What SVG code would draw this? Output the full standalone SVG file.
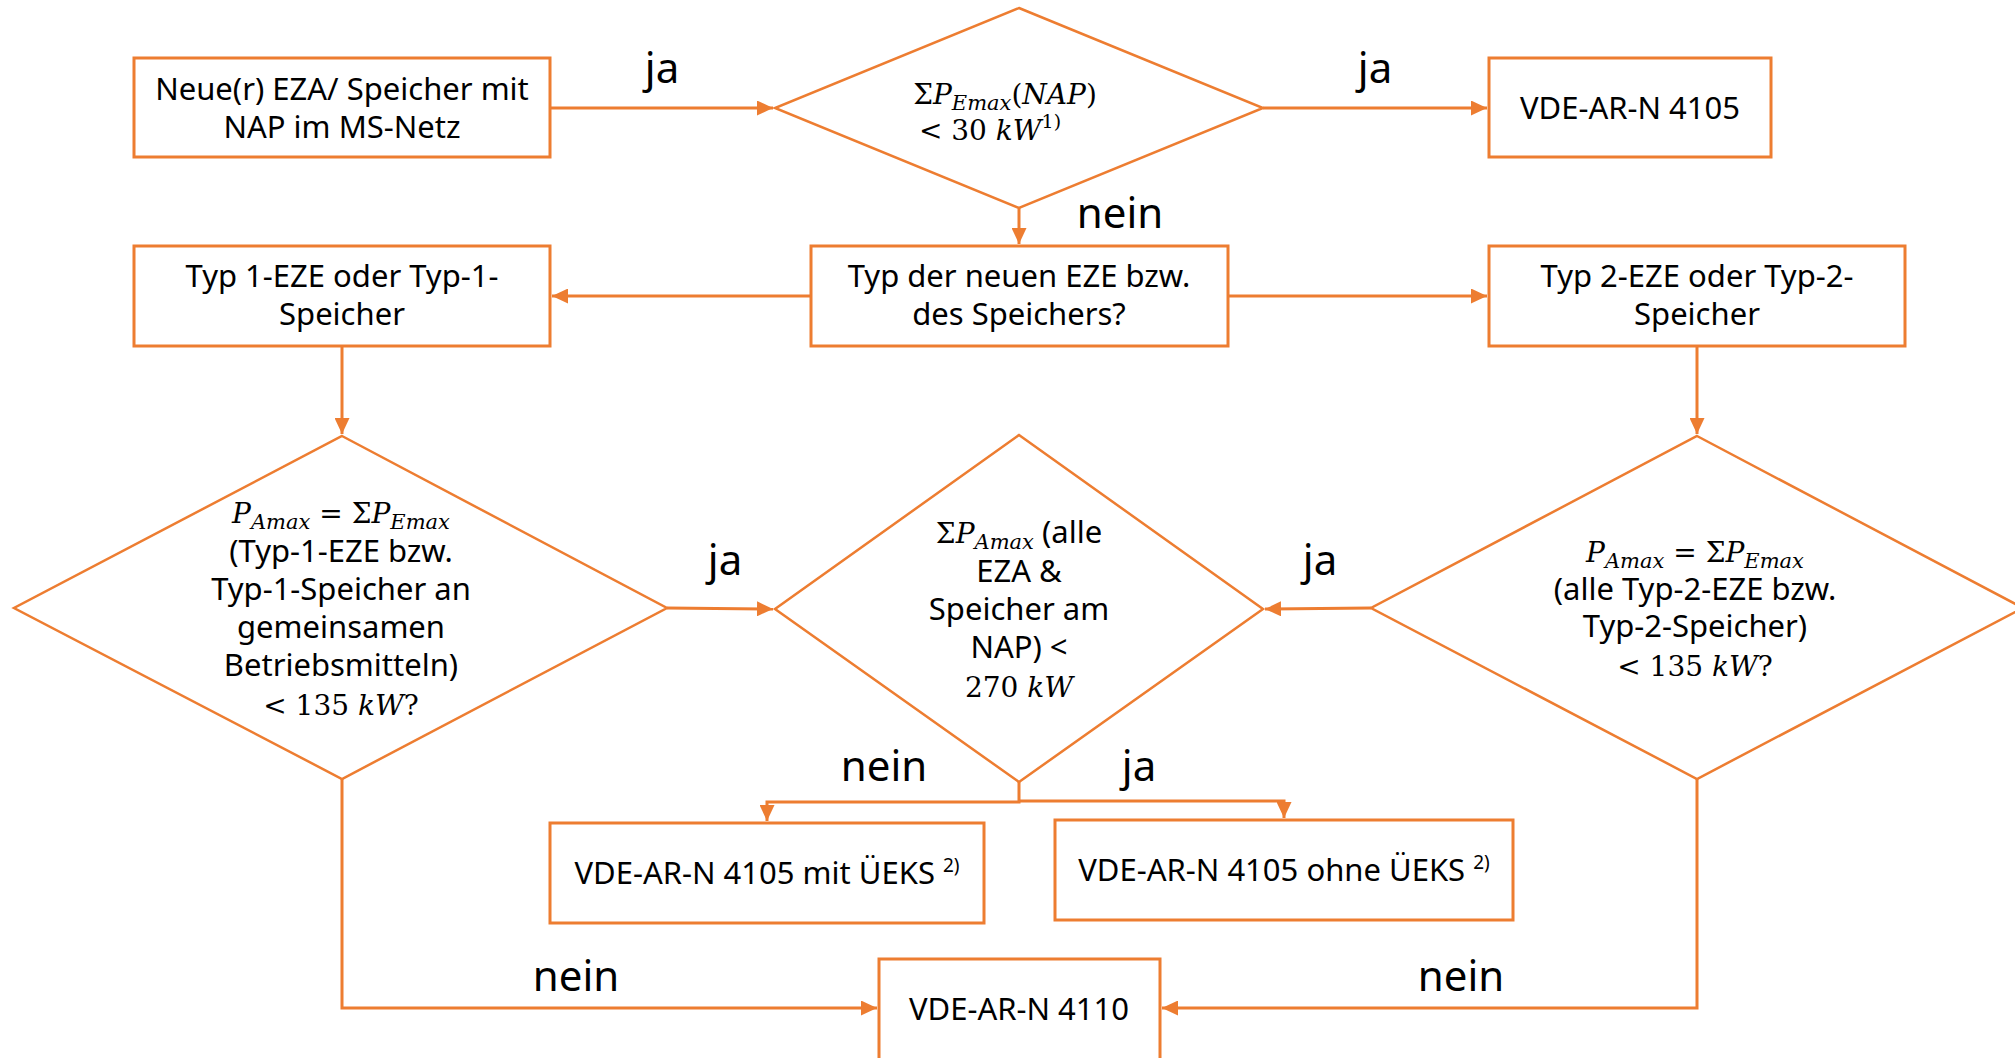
<svg xmlns="http://www.w3.org/2000/svg" width="2015" height="1058" viewBox="0 0 2015 1058">
<defs>
<style>
.box{fill:#fff;stroke:#ED7D31;stroke-width:3}
.dia{fill:#fff;stroke:#ED7D31;stroke-width:2.5}
.con{fill:none;stroke:#ED7D31;stroke-width:3}
.t{font-family:"Noto Sans","Open Sans",sans-serif;font-size:31px;fill:#000;text-anchor:middle}
.lbl{font-family:"Noto Sans","Open Sans",sans-serif;font-size:42px;fill:#000;text-anchor:middle}
.m{font-family:"DejaVu Serif","Liberation Serif",serif;font-size:28px;fill:#000;text-anchor:middle}
.i{font-style:italic}
.sb{font-size:21px;font-style:italic}
.sup{font-size:19px}
</style>
<marker id="ah" markerUnits="userSpaceOnUse" markerWidth="16" markerHeight="15" refX="16" refY="7.5" orient="auto">
<path d="M0,0 L16,7.5 L0,15 Z" fill="#ED7D31"/>
</marker>
</defs>
<rect width="2015" height="1058" fill="#fff"/>
<g id="connectors">
<path class="con" d="M550,108 H773" marker-end="url(#ah)"/>
<path class="con" d="M1263,108 H1487" marker-end="url(#ah)"/>
<path class="con" d="M1019,208 V244" marker-end="url(#ah)"/>
<path class="con" d="M811,296 H552" marker-end="url(#ah)"/>
<path class="con" d="M1228,296 H1487" marker-end="url(#ah)"/>
<path class="con" d="M342,346 V434" marker-end="url(#ah)"/>
<path class="con" d="M1697,346 V434" marker-end="url(#ah)"/>
<path class="con" d="M667,608 L773,609" marker-end="url(#ah)"/>
<path class="con" d="M1371,608 L1265,609" marker-end="url(#ah)"/>
<path class="con" d="M1019,782 V802 H767 V821" marker-end="url(#ah)"/>
<path class="con" d="M1019,801 H1284 V818" marker-end="url(#ah)"/>
<path class="con" d="M342,779 V1008 H877" marker-end="url(#ah)"/>
<path class="con" d="M1697,779 V1008 H1162" marker-end="url(#ah)"/>
<text class="lbl" x="662" y="83">ja</text>
<text class="lbl" x="1375" y="83">ja</text>
<text class="lbl" x="1120" y="228">nein</text>
<text class="lbl" x="725" y="575">ja</text>
<text class="lbl" x="1320" y="575">ja</text>
<text class="lbl" x="884" y="781">nein</text>
<text class="lbl" x="1139" y="781">ja</text>
<text class="lbl" x="576" y="991">nein</text>
<text class="lbl" x="1461" y="991">nein</text>
</g>
<g id="n-start">
<rect class="box" x="134" y="58" width="416" height="99"/>
<text class="t" x="342" y="100">Neue(r) EZA/ Speicher mit</text>
<text class="t" x="342" y="138">NAP im MS-Netz</text>
</g>
<g id="n-d30">
<polygon class="dia" points="1019,8 1263,108 1019,208 775,108"/>
<text class="m" x="1005" y="104">Σ<tspan class="i">P</tspan><tspan class="sb" dy="6">Emax</tspan><tspan dy="-6">(</tspan><tspan class="i">NAP</tspan>)</text>
<text class="m" x="990" y="140">&lt; 30 <tspan class="i">kW</tspan><tspan class="sup" dy="-12">1)</tspan></text>
</g>
<g id="n-4105">
<rect class="box" x="1489" y="58" width="282" height="99"/>
<text class="t" x="1630" y="119">VDE-AR-N 4105</text>
</g>
<g id="n-typ1">
<rect class="box" x="134" y="246" width="416" height="100"/>
<text class="t" x="342" y="287">Typ 1-EZE oder Typ-1-</text>
<text class="t" x="342" y="325">Speicher</text>
</g>
<g id="n-typ">
<rect class="box" x="811" y="246" width="417" height="100"/>
<text class="t" x="1019" y="287">Typ der neuen EZE bzw.</text>
<text class="t" x="1019" y="325">des Speichers?</text>
</g>
<g id="n-typ2">
<rect class="box" x="1489" y="246" width="416" height="100"/>
<text class="t" x="1697" y="287">Typ 2-EZE oder Typ-2-</text>
<text class="t" x="1697" y="325">Speicher</text>
</g>
<g id="n-d135a">
<polygon class="dia" points="342,436 667,608 342,779 14,608"/>
<text class="m" x="341" y="523"><tspan class="i">P</tspan><tspan class="sb" dy="6">Amax</tspan><tspan dy="-6"> = Σ</tspan><tspan class="i">P</tspan><tspan class="sb" dy="6">Emax</tspan></text>
<text class="t" x="341" y="562">(Typ-1-EZE bzw.</text>
<text class="t" x="341" y="600">Typ-1-Speicher an</text>
<text class="t" x="341" y="638">gemeinsamen</text>
<text class="t" x="341" y="676">Betriebsmitteln)</text>
<text class="m" x="341" y="715">&lt; 135 <tspan class="i">kW</tspan>?</text>
</g>
<g id="n-d270">
<polygon class="dia" points="1019,435 1263,609 1019,782 775,609"/>
<text class="t" x="1019" y="543"><tspan class="m">Σ</tspan><tspan class="m i">P</tspan><tspan class="m sb" dy="6">Amax</tspan><tspan dy="-6"> (alle</tspan></text>
<text class="t" x="1019" y="582">EZA &amp;</text>
<text class="t" x="1019" y="620">Speicher am</text>
<text class="t" x="1019" y="658">NAP) &lt;</text>
<text class="m" x="1019" y="697">270 <tspan class="i">kW</tspan></text>
</g>
<g id="n-d135b">
<polygon class="dia" points="1697,436 2023,608 1697,779 1371,608"/>
<text class="m" x="1695" y="562"><tspan class="i">P</tspan><tspan class="sb" dy="6">Amax</tspan><tspan dy="-6"> = Σ</tspan><tspan class="i">P</tspan><tspan class="sb" dy="6">Emax</tspan></text>
<text class="t" x="1695" y="600">(alle Typ-2-EZE bzw.</text>
<text class="t" x="1695" y="637">Typ-2-Speicher)</text>
<text class="m" x="1695" y="676">&lt; 135 <tspan class="i">kW</tspan>?</text>
</g>
<g id="n-mit">
<rect class="box" x="550" y="823" width="434" height="100"/>
<text class="t" x="767" y="884">VDE-AR-N 4105 mit ÜEKS <tspan class="sup" dy="-12">2)</tspan></text>
</g>
<g id="n-ohne">
<rect class="box" x="1055" y="820" width="458" height="100"/>
<text class="t" x="1284" y="881">VDE-AR-N 4105 ohne ÜEKS <tspan class="sup" dy="-12">2)</tspan></text>
</g>
<g id="n-4110">
<rect class="box" x="879" y="959" width="281" height="102"/>
<text class="t" x="1019" y="1020">VDE-AR-N 4110</text>
</g>
</svg>
